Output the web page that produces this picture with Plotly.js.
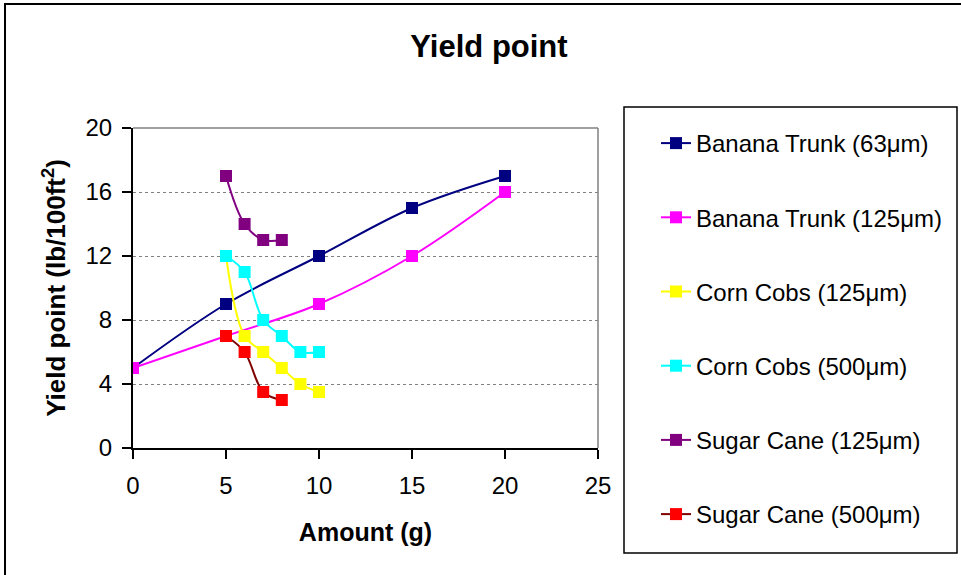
<!DOCTYPE html>
<html>
<head>
<meta charset="utf-8">
<script src="https://cdn.plot.ly/plotly-3.0.1.min.js"></script>
<style>html,body{margin:0;padding:0;background:#fff;}#chart{width:961px;height:575px;}</style>
</head>
<body>
<div id="chart"></div>
<script>
const seriesNames = ["Banana Trunk (63μm)", "Banana Trunk (125μm)", "Corn Cobs (125μm)", "Corn Cobs (500μm)", "Sugar Cane (125μm)", "Sugar Cane (500μm)"];
const bananaX = [0, 5, 10, 15, 20];
const banana63Y = [5, 9, 12, 15, 17];
const banana125Y = [5, 7, 9, 12, 16];
const cornX = [5, 6, 7, 8, 9, 10];
const corn125Y = [12, 7, 6, 5, 4, 3.5];
const corn500Y = [12, 11, 8, 7, 6, 6];
const caneX = [5, 6, 7, 8];
const cane125Y = [17, 14, 13, 13];
const cane500Y = [7, 6, 3.5, 3];
const xTicks = [0, 5, 10, 15, 20, 25];
const yTicks = [0, 4, 8, 12, 16, 20];

const lineColors = ["#000080", "#FF00FF", "#FFFF00", "#00FFFF", "#800080", "#800000"];
const markerColors = ["#000080", "#FF00FF", "#FFFF00", "#00FFFF", "#800080", "#FF0000"];
const xs = [bananaX, bananaX, cornX, cornX, caneX, caneX];
const ys = [banana63Y, banana125Y, corn125Y, corn500Y, cane125Y, cane500Y];

const traces = seriesNames.map((n, i) => ({
  type: "scatter", mode: "lines+markers", name: n,
  x: xs[i], y: ys[i], legendgroup: "g" + i,
  line: {color: lineColors[i], width: 2, shape: "spline", smoothing: 1},
  marker: {symbol: "square", size: 12, color: markerColors[i]}
}));

// plot area in px: x 133..598, y 128..448
const L = 133, R = 598, T = 128, B = 448, W = R - L, H = B - T;
const px = v => (v - L) / W;
const py = v => (B - v) / H;

const font = "Liberation Sans, Arial, sans-serif";
const layout = {
  width: 961, height: 575,
  margin: {l: L, r: 961 - R, t: T, b: 575 - B, pad: 0},
  paper_bgcolor: "#fff", plot_bgcolor: "#fff",
  font: {family: font, color: "#000", size: 24},
  title: {text: "<b>Yield point</b>", font: {size: 31, family: font}, x: 489 / 961, xanchor: "center", yref: "container", y: 1 - 46 / 575, yanchor: "middle"},
  xaxis: {
    range: [0, 25], tickvals: xTicks, ticktext: xTicks.map(String),
    showline: true, linecolor: "#000", linewidth: 2, ticks: "outside", ticklen: 9, tickwidth: 2, tickcolor: "#000",
    ticklabelstandoff: 6,
    showgrid: false, zeroline: false, tickfont: {size: 24}, fixedrange: true,
    title: {text: "<b>Amount (g)</b>", font: {size: 25}, standoff: 26}
  },
  yaxis: {
    range: [0, 20], tickvals: yTicks, ticktext: yTicks.map(String),
    showline: true, linecolor: "#000", linewidth: 2, ticks: "outside", ticklen: 9, tickwidth: 2, tickcolor: "#000",
    ticklabelstandoff: 5,
    showgrid: true, gridcolor: "#808080", griddash: "dot", gridwidth: 1, zeroline: false, tickfont: {size: 24}, fixedrange: true,
    title: {text: "<b>Yield point (lb/100ft<sup>2</sup>)</b>", font: {size: 26}, standoff: 12}
  },
  legend: {
    x: px(656), y: py(121), xanchor: "left", yanchor: "top",
    traceorder: "grouped", tracegroupgap: 40, font: {size: 24, family: font},
    bgcolor: "rgba(0,0,0,0)", borderwidth: 0, maxheight: 900
  },
  showlegend: true,
  shapes: [
    {type: "line", xref: "paper", yref: "paper", x0: 0, x1: 1, y0: 1, y1: 1, line: {color: "#808080", width: 1.5}},
    {type: "line", xref: "paper", yref: "paper", x0: 1, x1: 1, y0: 0, y1: 1, line: {color: "#808080", width: 1.5}},
    {type: "rect", xref: "paper", yref: "paper", x0: px(624), x1: px(957), y0: py(553), y1: py(107), line: {color: "#000", width: 1.5}},
    {type: "rect", xref: "paper", yref: "paper", x0: px(5), x1: px(1000), y0: py(620), y1: py(4), line: {color: "#000", width: 2}}
  ]
};
Plotly.newPlot("chart", traces, layout, {displayModeBar: false, staticPlot: true});
</script>
</body>
</html>
